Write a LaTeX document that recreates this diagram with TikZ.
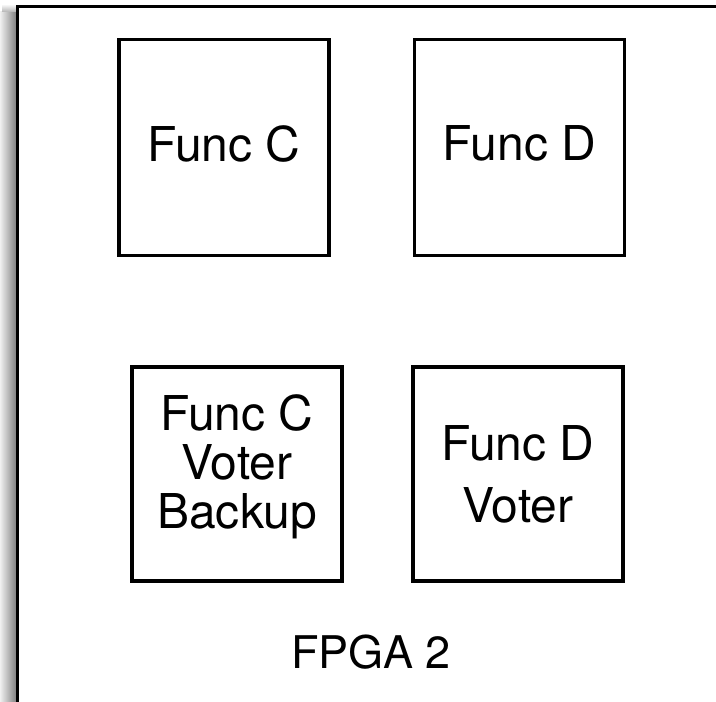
\documentclass[tikz,border=0pt]{standalone}
\usepackage{fontspec}
\setmainfont{TeX Gyre Heros}
\usetikzlibrary{positioning}
\tikzset{
  func/.style={draw, line width=1.75pt, fill=white, minimum width=105pt,
               minimum height=108pt, align=center, inner sep=0pt,
               font=\fontsize{24}{24.5}\selectfont},
  chip/.style={draw, line width=1.75pt, fill=white, outer sep=0pt,
               minimum width=361pt, minimum height=365pt, anchor=north west},
}

\begin{document}
\begin{tikzpicture}[x=0.5pt, y=-0.5pt, font=\fontsize{22.5}{24.5}\selectfont]
  \useasboundingbox (0,0) rectangle (716,701);
  \clip (0,0) rectangle (716,701);
  % --- shadow and chip outline ---
  \shade[left color=black!6, right color=black!50] (0,12) rectangle (16.5,701);
  \shade[top color=white, bottom color=black!30] (2,4) rectangle (16.5,12);
  \node[chip] (fpga) at (17.5,6.5) {};

  % --- functions ---
  \node[func, text depth=4pt] (fc) at (224,147.5) {Func C};
  \node[func, text depth=4pt] (fd) at (519.5,147.5) {Func D};

  % --- voters ---
  \node[func, minimum height=107pt, text depth=12.5pt] (fcv) at (237,474)
    {Func C\\Voter\\Backup};
  \node[func, minimum height=107pt] (fdv) at (518,474) {Func D\\[6.5pt]Voter};

  \node (lbl) at (371,652) {FPGA 2};
\end{tikzpicture}
\end{document}
